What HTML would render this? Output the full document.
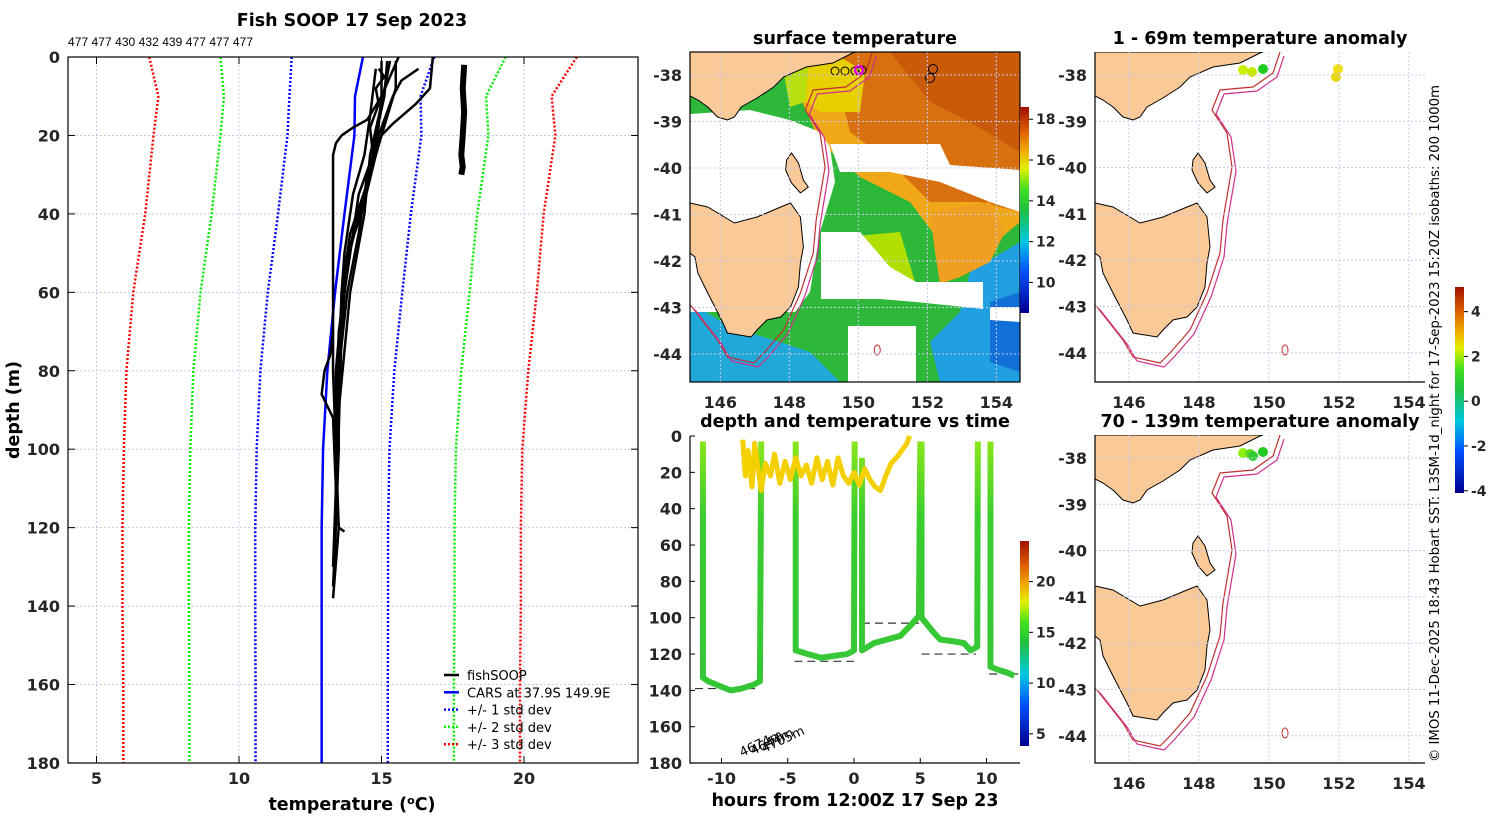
<!DOCTYPE html>
<html><head><meta charset="utf-8"><style>
html,body{margin:0;padding:0;background:#fff;}
svg{display:block;font-family:"DejaVu Sans","Liberation Sans",sans-serif;}
.tk{font-size:16px;font-weight:bold;fill:#262626;}
.tt{font-size:17.5px;font-weight:bold;fill:#000;}
</style></head><body>
<svg id="fig" width="1500" height="820" viewBox="0 0 1500 820" xmlns="http://www.w3.org/2000/svg">
<defs>
<linearGradient id="jet" x1="0" y1="1" x2="0" y2="0">
<stop offset="0" stop-color="#00008f"/><stop offset="0.2" stop-color="#0050ff"/><stop offset="0.35" stop-color="#00c8e0"/>
<stop offset="0.5" stop-color="#20c040"/><stop offset="0.6" stop-color="#40e020"/><stop offset="0.7" stop-color="#e0f000"/>
<stop offset="0.78" stop-color="#f0b000"/><stop offset="0.88" stop-color="#e06000"/><stop offset="1" stop-color="#a01000"/>
</linearGradient>
<linearGradient id="diveg" gradientUnits="userSpaceOnUse" x1="0" y1="436" x2="0" y2="763">
<stop offset="0" stop-color="#8ee81a"/><stop offset="0.25" stop-color="#3acc30"/><stop offset="1" stop-color="#33c43a"/>
</linearGradient>
<clipPath id="clipMid"><rect x="690" y="52" width="330" height="330"/></clipPath>
<clipPath id="clipR1"><rect x="1095" y="52" width="330" height="330"/></clipPath>
<clipPath id="clipR2"><rect x="1095" y="435" width="330" height="328"/></clipPath>
</defs>
<g id="root"></g>
</svg>
<script>
// ---------- main profile data ----------
const carsDepth=[0,10,20,40,60,80,100,120,140,160,180];
const carsMean=[14.35,14.07,14.05,13.7,13.37,13.1,12.95,12.9,12.9,12.9,12.9];
const carsStd=[2.5,2.3,2.35,2.33,2.36,2.35,2.33,2.33,2.33,2.32,2.32];
const tempTicks=[5,10,15,20];
const depthTicks=[0,20,40,60,80,100,120,140,160,180];
const profileDepths=[
 [0,10,16,18,20,22,25,40,60,80,100,120,138],
 [3,15,25,35,50,60,80,100,120,135],
 [1,10,20,30,45,60,90,130],
 [1,8,20,30,45,60,80,100],
 [3,6,10,20,35,55,80,110],
 [0,8,12,17,20,30,45,70,100],
 [1,12,25,40,60,90],
 [70,76,80,86,92,110,120,121],
 [1,10,25,40,50,70,95],
 [3,5,8,12,18,25,35,45,60,75]
];
const profileTemps=[
 [15.6,15.0,14.5,14.0,13.6,13.4,13.3,13.3,13.3,13.3,13.4,13.5,13.3],
 [14.8,14.6,14.4,14.0,13.7,13.6,13.5,13.5,13.4,13.3],
 [15.2,15.1,14.8,14.6,13.9,13.6,13.5,13.3],
 [15.5,15.5,15.0,14.5,14.2,13.8,13.5,13.4],
 [16.3,15.7,15.4,14.9,14.4,13.7,13.4,13.4],
 [16.8,16.7,16.2,15.4,15.0,14.6,14.0,13.5,13.4],
 [15.3,15.0,14.6,14.4,13.9,13.5],
 [13.3,13.2,13.0,12.9,13.3,13.4,13.5,13.7],
 [15.0,15.0,14.8,14.3,13.8,13.6,13.5],
 [14.9,15.1,14.8,14.9,14.6,14.7,14.2,14.0,13.7,13.5]
];
const warmDepths=[2,8,14,20,25,28,30];
const warmTemps=[17.9,17.85,17.9,17.85,17.8,17.85,17.8];
const sampleCounts=["477","477","430","432","439","477","477","477"];
// ---------- time series data ----------
const hourTicks=[-10,-5,0,5,10];
const tsDepthTicks=[0,20,40,60,80,100,120,140,160,180];
const diveHours=[
 [-11.4,-11.4,-11,-10,-9.3,-8.5,-7.6,-7.1,-7.0],
 [-4.4,-4.4,-3.5,-2.5,-1.5,-0.5,0,0.05],
 [0.6,0.6,1.5,2.5,3.5,4.3,4.9,5.0],
 [5.1,5.1,6,6.5,7.5,8.3,8.8,9.3,9.35],
 [10.3,10.3,11,11.5,12.1]
];
const diveDepths=[
 [3,133,135,138,140,139,137,135,3],
 [3,118,120,122,121,120,118,3],
 [12,118,114,112,110,104,99,3],
 [3,100,108,112,113,114,118,116,3],
 [3,127,129,130,132]
];
const bottomHours=[[-12,-7.3],[-4.5,0],[0.6,4.9],[5.1,9.2],[10.2,12.4]];
const bottomDepths=[139,124,103,120,131];
const bottomLabels=["4674m","4644m","4705m"];
const yelHours=[-8.4,-8.2,-8,-7.7,-7.5,-7.2,-7,-6.7,-6.3,-6,-5.6,-5.2,-4.8,-4.4,-4,-3.6,-3.2,-2.8,-2.4,-2,-1.6,-1.2,-0.8,-0.4,0,0.4,0.8,1.2,1.6,2,2.4,2.8,3.2,3.6,4,4.2];
const yelDepths=[2,22,8,28,4,20,30,15,22,10,26,14,24,12,22,16,26,12,24,14,27,12,22,26,20,27,18,24,28,30,22,15,12,8,4,0];
// ---------- map data ----------
const lonTicks=[146,148,150,152,154];
const latTicks=[-38,-39,-40,-41,-42,-43,-44];
const sstTicks=[10,12,14,16,18];
const tsTempTicks=[5,10,15,20];
const anomTicks=[-4,-2,0,2,4];

const NS="http://www.w3.org/2000/svg";
const root=document.getElementById('root');
function el(tag,attrs,parent,txt){const e=document.createElementNS(NS,tag);for(const k in attrs)e.setAttribute(k,attrs[k]);if(txt!==undefined)e.textContent=txt;(parent||root).appendChild(e);return e;}
function grp(name){const g=el('g',{});return g;}

// ===== main panel =====
const X=t=>68+(t-4)*28.5, Y=d=>57+d*3.922;
const gm=grp('profile-panel');
const t1=el('text',{x:352,y:26,'text-anchor':'middle',class:'tt'},gm,'Fish SOOP 17 Sep 2023');

const sc=el('text',{x:68,y:46,'font-size':'12','font-family':'Liberation Sans, sans-serif','textLength':185},gm,sampleCounts.join(' '));

tempTicks.forEach(t=>{el('line',{x1:X(t),x2:X(t),y1:57,y2:763,stroke:'#c8c8e8','stroke-dasharray':'2 2','stroke-width':1},gm);
 el('line',{x1:X(t),x2:X(t),y1:763,y2:756,stroke:'#000'},gm);el('line',{x1:X(t),x2:X(t),y1:57,y2:64,stroke:'#000'},gm);
 const l=el('text',{x:X(t),y:784,'text-anchor':'middle',class:'tk'},gm,t);});
depthTicks.forEach(d=>{el('line',{x1:68,x2:638,y1:Y(d),y2:Y(d),stroke:'#c8c8e8','stroke-dasharray':'2 2','stroke-width':1},gm);
 el('line',{x1:68,x2:75,y1:Y(d),y2:Y(d),stroke:'#000'},gm);el('line',{x1:631,x2:638,y1:Y(d),y2:Y(d),stroke:'#000'},gm);
 const l=el('text',{x:60,y:Y(d)+6,'text-anchor':'end',class:'tk'},gm,d);});
function pts(ts,ds,fx,fy){return ts.map((t,i)=>fx(t)+','+fy(ds[i])).join(' ');}
const stdCols=['#0000ff','#00ee00','#ff0000'];
[1,2,3].forEach((k,ki)=>{[-1,1].forEach(s=>{
 const p=el('polyline',{points:carsDepth.map((d,i)=>X(carsMean[i]+s*k*carsStd[i])+','+Y(d)).join(' '),fill:'none',stroke:stdCols[ki],'stroke-width':2.5,'stroke-dasharray':'2 2'},gm);
 });});
const cl=el('polyline',{points:pts(carsMean,carsDepth,X,Y),fill:'none',stroke:'#0000ff','stroke-width':2.5},gm);

profileDepths.forEach((ds,i)=>{const p=el('polyline',{points:pts(profileTemps[i],ds,X,Y),fill:'none',stroke:'#000','stroke-width':2.5,'stroke-linejoin':'round'},gm);
 });
const wp=el('polyline',{points:pts(warmTemps,warmDepths,X,Y),fill:'none',stroke:'#000','stroke-width':6},gm);

el('rect',{x:68,y:57,width:570,height:706,fill:'none',stroke:'#000','stroke-width':1.2},gm);
const yl=el('text',{x:0,y:0,transform:'translate(19,410) rotate(-90)','text-anchor':'middle',class:'tt'},gm,'depth (m)');

const xl=el('text',{x:352,y:810,'text-anchor':'middle',class:'tt'},gm);

xl.innerHTML='temperature (<tspan dy="-6" font-size="11">o</tspan><tspan dy="6">C)</tspan>';
// legend
const lg=grp('legend');
const legItems=[['fishSOOP','#000',''],['CARS at 37.9S 149.9E','#0000ff',''],['+/- 1 std dev','#0000ff','2 2'],['+/- 2 std dev','#00ee00','2 2'],['+/- 3 std dev','#ff0000','2 2']];
legItems.forEach((it,i)=>{const y=675+i*17.3;
 const e=grp('legend-entry');lg.appendChild(e);
 el('line',{x1:444,x2:459,y1:y,y2:y,stroke:it[1],'stroke-width':2.5,'stroke-dasharray':it[2]},e);
 el('text',{x:467,y:y+5,'font-size':'13','fill':'#000'},e,it[0]);});

// ===== map drawing =====
const mainland=[[0,0],[168,0],[165,1],[145,11],[118,15],[95,25],[85,35],[68,46],[52,55],[45,65],[38,68],[28,65],[18,55],[8,48],[0,44]];
const tas=[[0,151],[18,155],[45,171],[68,165],[92,155],[102,151],[112,165],[115,195],[112,211],[110,235],[102,255],[92,265],[78,268],[68,278],[62,285],[38,281],[32,268],[18,241],[8,221],[5,205],[0,201]];
const flinders=[[98,108],[103,101],[110,111],[115,128],[120,135],[112,141],[103,131],[97,118]];
const isobath=[[185,0],[178,21],[158,35],[125,38],[117,58],[132,81],[137,115],[128,168],[125,201],[112,241],[95,278],[75,301],[65,311],[38,305],[28,288],[2,255],[0,253]];
function P(arr,ox,oy,s){return arr.map(p=>(ox+p[0]*s)+','+(oy+p[1])).join(' ');}
function drawMapBase(g,ox,oy,s){
 [mainland,tas,flinders].forEach((poly,i)=>{const p=el('polygon',{points:P(poly,ox,oy,s),fill:'#fac998',stroke:'#000','stroke-width':1},g);
  });
 const i1=el('polyline',{points:P(isobath,ox,oy,s),fill:'none',stroke:'#c03030','stroke-width':1.2},g);
 
 const i2=el('polyline',{points:P(isobath,ox+4,oy+4,s),fill:'none',stroke:'#d0308a','stroke-width':1.2},g);
 
 el('ellipse',{cx:ox+190*s,cy:oy+298,rx:3,ry:5,fill:'none',stroke:'#c03030'},g);
}
function mapAxes(g,ox,oy,w,h,lon0,pxdeg,lat38y,latpx,box){
 lonTicks.forEach(l=>{const x=ox+(l-lon0)*pxdeg;el('line',{x1:x,x2:x,y1:oy,y2:oy+h,stroke:'#c8c8e8','stroke-dasharray':'2 2'},g);
  const t=el('text',{x:x,y:oy+h+26,'text-anchor':'middle',class:'tk'},g,l);});
 latTicks.forEach(l=>{const y=lat38y+(-38-l)*latpx;el('line',{x1:ox,x2:ox+w,y1:y,y2:y,stroke:'#c8c8e8','stroke-dasharray':'2 2'},g);
  const t=el('text',{x:ox-8,y:y+6,'text-anchor':'end',class:'tk'},g,l);});
 if(box) el('rect',{x:ox,y:oy,width:w,height:h,fill:'none',stroke:'#000','stroke-width':1.2},g);
 else el('polyline',{points:`${ox},${oy} ${ox},${oy+h} ${ox+w},${oy+h}`,fill:'none',stroke:'#000','stroke-width':1.2},g);
}
function colorbar(g,x,y0,y1,vmin,vmax,ticks,name){
 const cb=grp(name);g.appendChild(cb);
 el('rect',{x:x,y:y0,width:9,height:y1-y0,fill:'url(#jet)'},cb);
 ticks.forEach(v=>{const y=y1-(v-vmin)/(vmax-vmin)*(y1-y0);el('line',{x1:x+9,x2:x+13,y1:y,y2:y,stroke:'#000'},cb);
  el('text',{x:x+16,y:y+5,'font-size':'14','font-weight':'bold',fill:'#262626'},cb,v);});
}

// ===== SST map =====
const gs=grp('sst-map');
const ts=el('text',{x:855,y:44,'text-anchor':'middle',class:'tt'},gs,'surface temperature');

const field=el('g',{'clip-path':'url(#clipMid)'},gs);
const O=(a)=>a.map(p=>(690+p[0])+','+(52+p[1])).join(' ');
el('rect',{x:690,y:52,width:330,height:330,fill:'#2db83a'},field);
[[ [[0,250],[40,275],[90,290],[120,300],[150,330],[0,330]],'#20a8d8'],
 [ [[280,220],[330,190],[330,330],[250,330],[240,290],[270,260]],'#20a0e0'],
 [ [[300,250],[330,240],[330,320],[300,310]],'#1070d8'],
 [ [[115,0],[330,0],[330,170],[300,195],[250,190],[220,150],[170,125],[130,90],[110,45]],'#f0a818'],
 [ [[140,0],[330,0],[330,160],[290,150],[240,150],[200,110],[160,80],[150,40]],'#d87010'],
 [ [[200,0],[330,0],[330,100],[280,70],[240,50]],'#c85a08'],
 [ [[100,10],[150,5],[175,20],[170,60],[130,60],[110,45]],'#e8d000'],
 [ [[240,160],[300,150],[315,180],[300,210],[270,225],[250,232],[245,200]],'#f0a020'],
 [ [[155,185],[210,180],[225,230],[200,245],[165,230]],'#b0e000'],
 [ [[90,0],[120,0],[115,50],[100,55]],'#b8e010'],
].forEach(a=>el('polygon',{points:O(a[0]),fill:a[1]},field));
[[ [[0,62],[60,58],[100,68],[130,80],[140,95],[145,130],[130,180],[120,240],[105,260],[0,260]],'#fff'],
 [[[140,92],[250,92],[260,113],[330,118],[330,160],[300,150],[250,130],[200,120],[150,120]],'#fff'],
 [[[131,180],[170,180],[200,215],[226,230],[293,230],[293,257],[226,250],[190,247],[131,247]],'#fff'],
 [[[158,274],[226,274],[226,331],[158,331]],'#fff'],
 [[[300,255],[330,255],[330,270],[300,268]],'#fff']
].forEach(a=>el('polygon',{points:O(a[0]),fill:a[1]},field));
drawMapBase(field,690,52,34.5/35);
[[835,71],[845,71],[855,71],[862,70]].forEach(c=>el('circle',{cx:c[0],cy:c[1],r:4,fill:'none',stroke:'#000'},field));
el('circle',{cx:859,cy:70,r:4,fill:'none',stroke:'#e000e0','stroke-width':2.5},field);
[[933,69],[930,78]].forEach(c=>el('circle',{cx:c[0],cy:c[1],r:4.5,fill:'#c85a08',stroke:'#000'},field));
mapAxes(gs,690,52,330,330,145.12,34.5,75,46.5,true);
colorbar(gs,1020,107,313,8.5,18.6,sstTicks,'sst-colorbar');

// ===== time series =====
const TX=h=>854+h*13.25, TY=d=>436+d*1.817;
const gt=grp('time-series-panel');
const tt2=el('text',{x:855,y:427,'text-anchor':'middle',class:'tt'},gt,'depth and temperature vs time');

tsDepthTicks.forEach(d=>{el('line',{x1:690,x2:695,y1:TY(d),y2:TY(d),stroke:'#000'},gt);
 const t=el('text',{x:682,y:TY(d)+6,'text-anchor':'end',class:'tk'},gt,d);});
hourTicks.forEach(h=>{el('line',{x1:TX(h),x2:TX(h),y1:763,y2:758,stroke:'#000'},gt);
 const t=el('text',{x:TX(h),y:784,'text-anchor':'middle',class:'tk'},gt,h);});
bottomHours.forEach((b,i)=>{const l=el('line',{x1:TX(b[0]),x2:TX(b[1]),y1:TY(bottomDepths[i]),y2:TY(bottomDepths[i]),stroke:'#333','stroke-dasharray':'8 5','stroke-width':1.2},gt);
 });
diveHours.forEach((hs,i)=>{const p=el('polyline',{points:pts(hs,diveDepths[i],TX,TY),fill:'none',stroke:'url(#diveg)','stroke-width':6,'stroke-linejoin':'round'},gt);
 });
const yp=el('polyline',{points:pts(yelHours,yelDepths,TX,TY),fill:'none',stroke:'#f5d000','stroke-width':5,'stroke-linejoin':'round'},gt);

bottomLabels.forEach((s,i)=>{el('text',{x:0,y:0,transform:`translate(${742+i*11},${757-i*2}) rotate(-25)`,'font-size':'13',fill:'#000'},gt,s);});
el('polyline',{points:'690,436 690,763 1020,763',fill:'none',stroke:'#000','stroke-width':1.2},gt);
const xt=el('text',{x:855,y:806,'text-anchor':'middle',class:'tt'},gt,'hours from 12:00Z 17 Sep 23');

colorbar(gt,1020,541,746,3.8,24,tsTempTicks,'ts-colorbar');

// ===== anomaly maps =====
function anomMap(name,title,oy,dots){
 const g=grp(name);
 const t=el('text',{x:1260,y:oy-8,'text-anchor':'middle',class:'tt'},g,title);
 
 const c=el('g',{'clip-path':`url(#${oy<200?'clipR1':'clipR2'})`},g);
 drawMapBase(c,1095,oy,1);
 dots.forEach(d=>{const e=el('circle',{cx:1095+d[0],cy:oy+d[1],r:5,fill:d[2]},c);});
 mapAxes(g,1095,oy,330,oy<200?330:328,145.03,35,oy+23,46.3,false);
}
anomMap('anomaly-map-shallow','1 - 69m temperature anomaly',52,[[148,18,'#c8f000'],[157,20,'#c8e800'],[168,17,'#22cc22'],[243,17,'#f0e000'],[241,25,'#e8d800']]);
anomMap('anomaly-map-deep','70 - 139m temperature anomaly',435,[[148,18,'#90ee10'],[155,19,'#60d820'],[158,21,'#30cc30'],[168,17,'#22cc22']]);
colorbar(root,1455,287,493,-4.1,5.1,anomTicks,'anomaly-colorbar');
const cr=el('text',{x:0,y:0,transform:'translate(1439,762) rotate(-90)','font-size':'13.3',fill:'#000','textLength':677},root,'© IMOS 11-Dec-2025 18:43 Hobart SST: L3SM-1d_night for 17-Sep-2023 15:20Z isobaths: 200  1000m');

</script>
</body></html>
